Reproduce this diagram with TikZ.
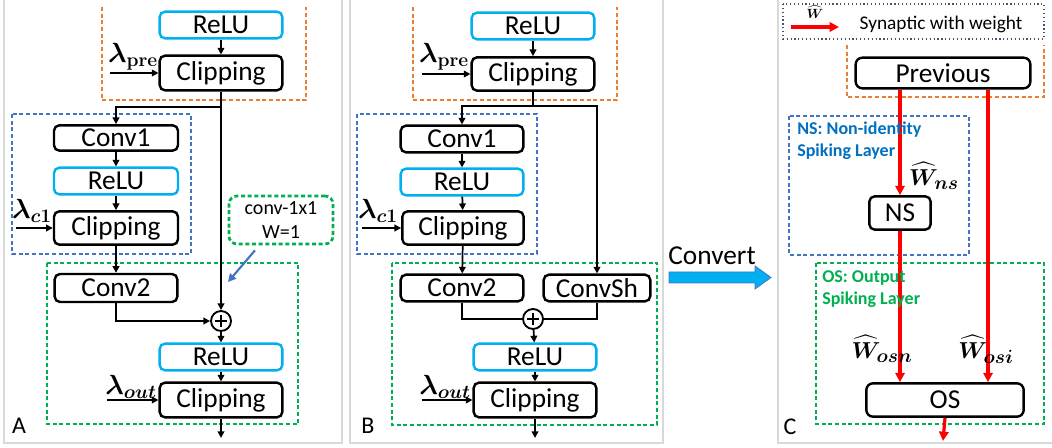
\documentclass[tikz,border=0pt]{standalone}
\usepackage[no-math]{fontspec}
\setmainfont{Carlito}
\usepackage{amsmath}
\usepackage{bm}
\usetikzlibrary{arrows.meta,calc}

\definecolor{reluc}{HTML}{00B0F0}
\definecolor{preo}{HTML}{ED7D31}
\definecolor{blkb}{HTML}{4472C4}
\definecolor{outg}{HTML}{00B050}
\definecolor{nsblue}{HTML}{0070C0}
\definecolor{framegray}{HTML}{D9D9D9}
\definecolor{legendc}{HTML}{44546A}

\tikzset{
  layer/.style={draw, rounded corners=4pt, line width=1.8pt, inner sep=0pt, font=\fontsize{20.5}{22}\selectfont},
  relubox/.style={layer, draw=reluc},
  addnode/.style={circle, draw, line width=1.4pt, minimum size=15pt, inner sep=0pt,
    path picture={\draw[line width=1.4pt] ([xshift=-4.5pt]path picture bounding box.center) -- ([xshift=4.5pt]path picture bounding box.center);
      \draw[line width=1.4pt] ([yshift=-4.5pt]path picture bounding box.center) -- ([yshift=4.5pt]path picture bounding box.center);}},
  ln/.style={line width=1.3pt},
  arr/.style={line width=1.3pt, -{Triangle[length=5pt,width=5pt]}},
  syn/.style={red, line width=2.4pt, -{Triangle[length=7pt,width=7pt]}},
  lam/.style={inner sep=0pt, font=\boldmath\fontsize{21}{23}\selectfont},
  wlab/.style={inner sep=0pt, font=\boldmath\fontsize{19}{21}\selectfont},
  prebox/.style={preo, dashed, dash pattern=on 3pt off 2pt, line width=1pt},
  midbox/.style={blkb, dashed, dash pattern=on 3pt off 2pt, line width=1pt},
  outbox/.style={outg, dashed, dash pattern=on 3pt off 2pt, line width=1pt},
  panel/.style={framegray, line width=1.5pt},
  panellab/.style={inner sep=0pt, font=\fontsize{18}{20}\selectfont},
  layertxt/.style={anchor=north west, inner sep=0pt, align=left, font=\bfseries\fontsize{13.5}{16.5}\selectfont}
}

\begin{document}
\begin{tikzpicture}[x=0.75pt,y=0.75pt,yscale=-1,xscale=1]
\useasboundingbox (0,0) rectangle (1052,448);

%Panel frames
\draw[panel] (4,-5) -- (4,443) -- (342,443) -- (342,-5);
\draw[panel] (350,-5) -- (350,443) -- (663,443) -- (663,-5);
\draw[panel] (778,-5) -- (778,443) -- (1056,443);

%%%%%%%%%%%%%%%% A
%Dashed groups
\draw[prebox] (102,7) -- (102,100) -- (306,100) -- (306,7);
\draw[midbox] (12,114) rectangle (191,254);
\draw[outbox] (47,263) rectangle (298,424);

%Layers
\node[relubox, minimum width=92pt, minimum height=20pt] (reluA1) at (221,25) {ReLU};
\node[layer, minimum width=92pt, minimum height=26pt] (clipA1) at (221,73) {Clipping};
\node[layer, minimum width=93pt, minimum height=19pt] (conv1A) at (116,138) {Conv1};
\node[relubox, minimum width=93pt, minimum height=20pt] (reluA2) at (116,181) {ReLU};
\node[layer, minimum width=93pt, minimum height=25pt] (clipA2) at (116,228) {Clipping};
\node[layer, minimum width=92pt, minimum height=21pt] (conv2A) at (116,288) {Conv2};
\node[addnode] (plusA) at (221,321) {};
\node[relubox, minimum width=92pt, minimum height=20pt] (reluA3) at (221,357) {ReLU};
\node[layer, minimum width=92pt, minimum height=26pt] (clipA3) at (221,400) {Clipping};
\coordinate (splitA) at (221,107);
\coordinate (outA) at (221,438);

%Note
\node[outg, draw, dashed, dash pattern=on 3pt off 2pt, line width=2pt, rounded corners=6pt, minimum width=78pt, minimum height=36pt, inner sep=0pt, align=center, text=black, font=\fontsize{15}{18}\selectfont] (noteA) at (281,220) {conv-1x1\\W=1};
\coordinate (noteTip) at (228,282);
\draw[blkb, line width=1.6pt, -{Triangle[length=6pt,width=6pt]}] ($(noteA.south)+(-26,5)$) -- (noteTip);

%Lambdas
\node[lam] (lpreA) at (133,57) {$\lambda_{\mathbf{pre}}$};
\node[lam] (lc1A) at (32,211) {$\lambda_{c\mathbf{1}}$};
\node[lam] (loutA) at (131,387) {$\lambda_{out}$};
\coordinate (inpreA) at (110,73);
\coordinate (inc1A) at (16,228);
\coordinate (inoutA) at (107,400);

%Connectors
\draw[arr] (reluA1) -- (clipA1);
\draw[arr] (inpreA) -- (clipA1);
\draw[ln] (clipA1) -- (splitA);
\draw[arr] (splitA) -| (conv1A);
\draw[arr] (splitA) -- (plusA);
\draw[arr] (conv1A) -- (reluA2);
\draw[arr] (reluA2) -- (clipA2);
\draw[arr] (inc1A) -- (clipA2);
\draw[arr] (clipA2) -- (conv2A);
\draw[arr] (conv2A.south) |- (plusA.west);
\draw[arr] (plusA) -- (reluA3);
\draw[arr] (reluA3) -- (clipA3);
\draw[arr] (inoutA) -- (clipA3);
\draw[arr] (clipA3) -- (outA);

\node[panellab] (labA) at (19,426) {A};

%%%%%%%%%%%%%%%% B
%Dashed groups
\draw[prebox] (413,7) -- (413,100) -- (617,100) -- (617,7);
\draw[midbox] (357,114) rectangle (537,254);
\draw[outbox] (392,263) rectangle (657,425);

%Layers
\node[relubox, minimum width=92pt, minimum height=20pt] (reluB1) at (533,26) {ReLU};
\node[layer, minimum width=92pt, minimum height=25pt] (clipB1) at (533,74) {Clipping};
\node[layer, minimum width=92pt, minimum height=20pt] (conv1B) at (462,139) {Conv1};
\node[relubox, minimum width=92pt, minimum height=20pt] (reluB2) at (462,182) {ReLU};
\node[layer, minimum width=91pt, minimum height=25pt] (clipB2) at (463,228) {Clipping};
\node[layer, minimum width=92pt, minimum height=20pt] (conv2B) at (462,288) {Conv2};
\node[layer, minimum width=80pt, minimum height=20pt] (convshB) at (597,288) {ConvSh};
\node[addnode] (plusB) at (533,319) {};
\node[relubox, minimum width=92pt, minimum height=20pt] (reluB3) at (535,357) {ReLU};
\node[layer, minimum width=92pt, minimum height=26pt] (clipB3) at (535,400) {Clipping};
\coordinate (splitB) at (533,106);
\coordinate (outB) at (535,438);

%Lambdas
\node[lam] (lpreB) at (444,57) {$\lambda_{\mathbf{pre}}$};
\node[lam] (lc1B) at (378,211) {$\lambda_{c\mathbf{1}}$};
\node[lam] (loutB) at (445,387) {$\lambda_{out}$};
\coordinate (inpreB) at (422,74);
\coordinate (inc1B) at (362,228);
\coordinate (inoutB) at (422,400);

%Connectors
\draw[arr] (reluB1) -- (clipB1);
\draw[arr] (inpreB) -- (clipB1);
\draw[ln] (clipB1) -- (splitB);
\draw[arr] (splitB) -| (conv1B);
\draw[arr] (splitB) -| (convshB);
\draw[arr] (conv1B) -- (reluB2);
\draw[arr] (reluB2) -- (clipB2);
\draw[arr] (inc1B) -- (clipB2);
\draw[arr] (clipB2) -- (conv2B);
\draw[ln] (conv2B.south) |- (plusB.west);
\draw[ln] (convshB.south) |- (plusB.east);
\draw[arr] (plusB) -- (reluB3);
\draw[arr] (reluB3) -- (clipB3);
\draw[arr] (inoutB) -- (clipB3);
\draw[arr] (clipB3) -- (outB);

\node[panellab] (labB) at (368,426) {B};

%%%%%%%%%%%%%%%% Convert
\node[inner sep=0pt, font=\fontsize{20.5}{22}\selectfont] (convert) at (712,256) {Convert};
\draw[blkb, fill=reluc, line width=0.6pt] (669,272) -- (755,272) -- (755,266) -- (771,277.5) -- (755,289) -- (755,283) -- (669,283) -- cycle;

%%%%%%%%%%%%%%%% C
%Legend
\draw[legendc, dotted, line width=0.9pt] (783,4) rectangle (1044,39);
\coordinate (legS) at (791,27);
\coordinate (legE) at (839,27);
\draw[syn] (legS) -- (legE);
\node[inner sep=0pt, font=\boldmath\fontsize{10}{12}\selectfont] (legW) at (815,12) {$\widehat{W}$};
\node[inner sep=0pt, font=\fontsize{14.5}{16}\selectfont] (legTxt) at (941,24) {Synaptic with weight};

%Dashed groups
\draw[prebox] (847,45) -- (847,97) -- (1044,97) -- (1044,45);
\draw[midbox] (789,116) rectangle (969,255);
\draw[outbox] (816,263) rectangle (1044,424);

%Layers
\node[layer, rounded corners=5pt, minimum width=131pt, minimum height=23pt] (prevC) at (943,73) {Previous};
\node[layer, minimum width=46pt, minimum height=25pt] (nsC) at (900,213) {NS};
\node[layer, rounded corners=5pt, minimum width=118pt, minimum height=25pt] (osC) at (945,400) {OS};
\coordinate (outC) at (943,441);

%Synapses
\draw[syn] (nsC.north |- prevC.south) -- (nsC.north);
\draw[syn] ($(prevC.south)+(45,0)$) -- ($(osC.north)+(43,0)$);
\draw[syn] (nsC.south) -- (nsC.south |- osC.north);
\draw[syn] (osC.south) -- (outC);

%Texts
\node[layertxt, text=nsblue] (nsTxt) at (797,122) {NS: Non-identity\\Spiking Layer};
\node[layertxt, text=outg] (osTxt) at (822,270) {OS: Output\\Spiking Layer};
\node[wlab] (wns) at (934,176) {$\widehat{W}_{ns}$};
\node[wlab] (wosn) at (882,349) {$\widehat{W}_{osn}$};
\node[wlab] (wosi) at (986,349) {$\widehat{W}_{osi}$};

\node[panellab] (labC) at (790,427) {C};

\end{tikzpicture}
\end{document}
